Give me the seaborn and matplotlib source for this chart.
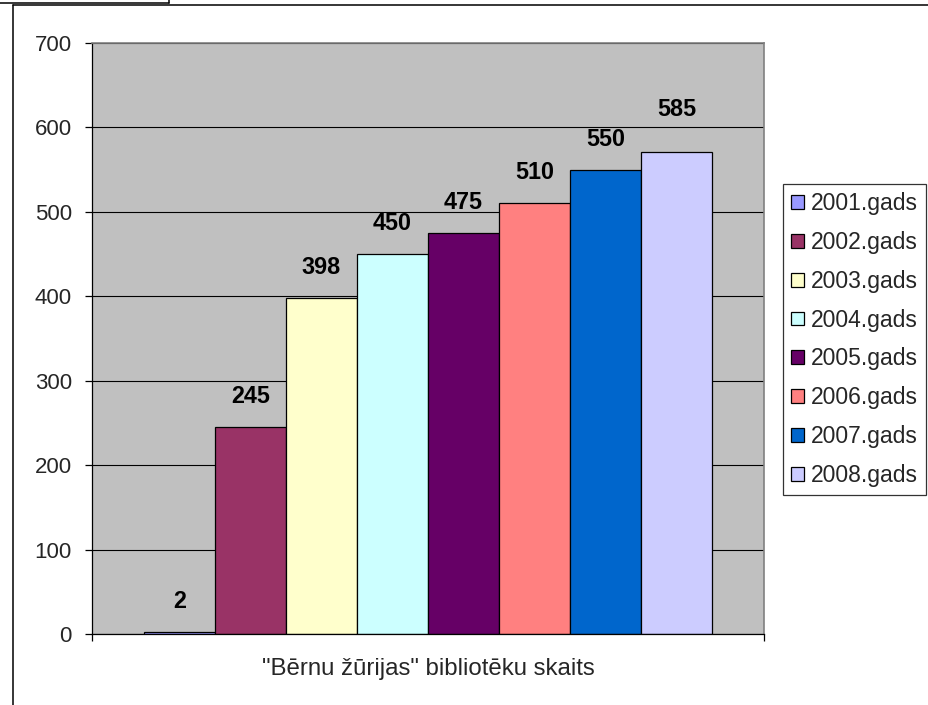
import matplotlib
matplotlib.use('Agg')
import matplotlib.pyplot as plt
import seaborn as sns
from matplotlib.patches import Patch
from matplotlib.lines import Line2D

# Data
category = '"Bērnu žūrijas" bibliotēku skaits'
years = ['2001.gads', '2002.gads', '2003.gads', '2004.gads',
         '2005.gads', '2006.gads', '2007.gads', '2008.gads']
bar_values = [2, 245, 398, 450, 475, 510, 550, 571]   # drawn bar heights
label_values = [2, 245, 398, 450, 475, 510, 550, 585]  # printed data labels
colors = ['#9999FF', '#993366', '#FFFFCC', '#CCFFFF',
          '#660066', '#FF8080', '#0066CC', '#CCCCFF']
yticks = [0, 100, 200, 300, 400, 500, 600, 700]

sns.set_style('white')
plt.rcParams['font.family'] = ['Liberation Sans', 'DejaVu Sans']

fig = plt.figure(figsize=(9.29, 7.05), dpi=100)
ax = fig.add_axes([92 / 929, 1 - 634 / 705, 672 / 929, 591 / 705])
ax.set_facecolor('#C0C0C0')

sns.barplot(x=[category] * len(years), y=bar_values, hue=years,
            palette=colors, dodge=True, width=0.845, saturation=1,
            edgecolor='black', linewidth=0.9, legend=False, ax=ax)

# data labels, centred on each bar
for patch, lv in zip(sorted(ax.patches, key=lambda p: p.get_x())[:len(years)], label_values):
    cx = patch.get_x() + patch.get_width() / 2
    ax.annotate(str(lv), (cx, lv), xytext=(0, 22), textcoords='offset points',
                ha='center', va='center', fontsize=16.8, fontweight='bold',
                color='black')

ax.set_xlim(-0.5, 0.5)
ax.set_ylim(0, 700)
ax.set_yticks(yticks)
ax.set_yticklabels([str(t) for t in yticks], fontsize=16)
ax.set_xticks([-0.5, 0.5])
ax.set_xticklabels(['', ''])
ax.set_xlabel(category, fontsize=17.3, labelpad=9)
ax.set_ylabel('')
ax.tick_params(axis='both', direction='out', length=5, width=0.9, color='black',
               left=True, bottom=True)
ax.tick_params(axis='y', pad=9.5)

ax.grid(axis='y', color='black', linewidth=0.8)
ax.set_axisbelow(True)
for side in ['left', 'bottom']:
    ax.spines[side].set_color('black')
    ax.spines[side].set_linewidth(0.9)
for side in ['top', 'right']:
    ax.spines[side].set_color('#808080')
    ax.spines[side].set_linewidth(1.2)

handles = [Patch(facecolor=c, edgecolor='black', linewidth=0.9) for c in colors]
leg = fig.legend(handles, years, loc='upper left',
                 bbox_to_anchor=(783 / 929, 1 - 184 / 705),
                 fontsize=16.5, frameon=True, fancybox=False, shadow=False,
                 handlelength=0.55, handleheight=0.55, handletextpad=0.3,
                 labelspacing=0.69, borderpad=0.36, borderaxespad=0)
leg.get_frame().set_edgecolor('black')
leg.get_frame().set_linewidth(0.9)

# outer chart frame and the small box at the top left
W, H = 929, 705
def fline(xs, ys):
    fig.add_artist(Line2D([x / W for x in xs], [1 - y / H for y in ys],
                          color='black', linewidth=1.1, transform=fig.transFigure))
fline([13, 929], [4.5, 4.5])
fline([13, 13], [4.5, 705])
fline([0, 169], [2.5, 2.5])
fline([169, 169], [0, 2.5])

fig.savefig('out.png', dpi=100)
